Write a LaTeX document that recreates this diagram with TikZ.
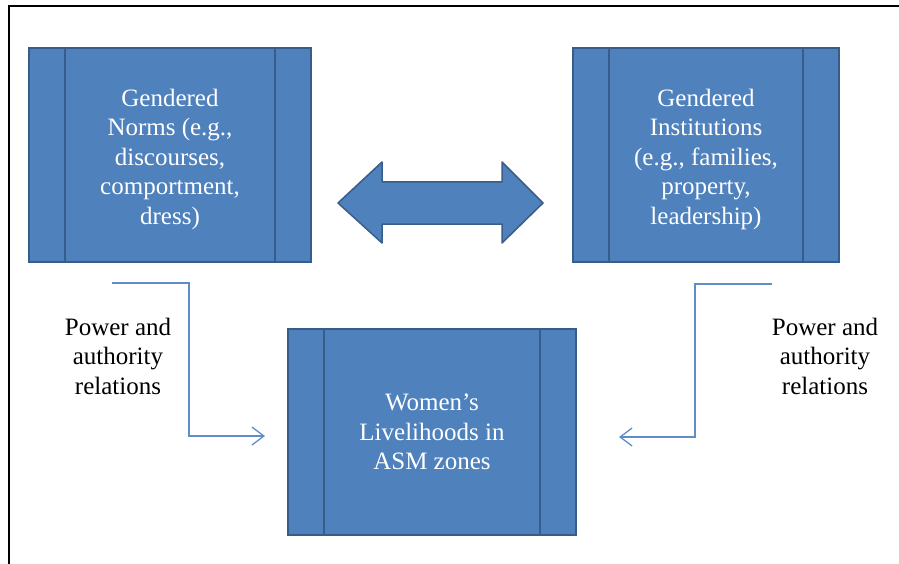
\documentclass[tikz,border=0pt]{standalone}
\usepackage{fontspec}
\setmainfont{Liberation Serif}
\usetikzlibrary{arrows.meta}
\definecolor{boxblue}{RGB}{79,129,189}
\definecolor{boxedge}{RGB}{56,93,138}
\definecolor{relblue}{RGB}{96,141,199}
\newcommand{\topstrut}{\rule{0pt}{26pt}}

\begin{document}
\begin{tikzpicture}[x=1pt,y=-1pt,
  factor/.style={draw=boxedge, line width=1.5pt, fill=boxblue, text=white,
    align=center, font=\fontsize{25}{29.5}\selectfont, minimum height=214pt,
    path picture={\draw[boxedge, line width=1.5pt]
      ([xshift=36pt]path picture bounding box.north west) -- ([xshift=36pt]path picture bounding box.south west)
      ([xshift=-36pt]path picture bounding box.north east) -- ([xshift=-36pt]path picture bounding box.south east);}},
  relation/.style={relblue, line width=1.3pt, -{Straight Barb[length=12pt,width=18pt]}},
  rellabel/.style={align=center, font=\fontsize{25}{29.5}\selectfont}]
  \useasboundingbox (0,0) rectangle (899,564);
  %Frame
  \draw[line width=2.5pt] (899,6) -- (9,6) -- (9,564);

  %Boxes
  \node[factor, minimum width=282pt] (norms) at (170,155) {\topstrut Gendered\\Norms (e.g.,\\discourses,\\comportment,\\dress)};
  \node[factor, minimum width=266pt] (inst) at (706,155) {\topstrut Gendered\\Institutions\\(e.g., families,\\property,\\leadership)};
  \node[factor, minimum width=288pt, minimum height=206pt] (lives) at (432,432) {Women’s\\Livelihoods in\\ASM zones};

  %Double arrow between norms and institutions
  \filldraw[draw=boxedge, fill=boxblue, line width=1.5pt, line join=round]
    (338,203) -- (382,162) -- (382,182) -- (502,182) -- (502,162) -- (543,203)
    -- (502,243) -- (502,224) -- (382,224) -- (382,243) -- cycle;

  %Power and authority relations
  \node[rellabel] (lpow) at (118,356) {Power and\\authority\\relations};
  \node[rellabel] (rpow) at (825,356) {Power and\\authority\\relations};

  \coordinate (lstart) at (112,283);
  \coordinate (lbend) at (189,436);
  \coordinate (lend) at (265,436);
  \draw[relation] (lstart) -| (lbend) -- (lend);

  \coordinate (rstart) at (772,284);
  \coordinate (rbend) at (695,437);
  \coordinate (rend) at (619,437);
  \draw[relation] (rstart) -| (rbend) -- (rend);
\end{tikzpicture}
\end{document}
